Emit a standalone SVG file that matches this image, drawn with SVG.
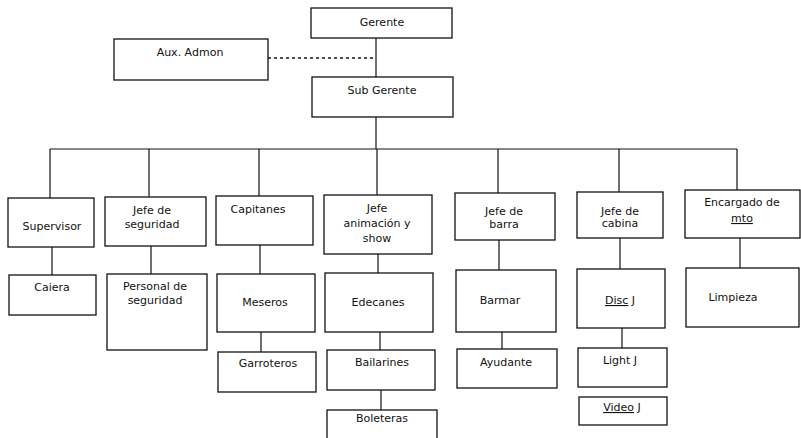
<svg xmlns="http://www.w3.org/2000/svg" width="801" height="438" viewBox="0 0 801 438">
<style>
.b{fill:#fff;stroke:#111;stroke-width:1.3}
.t{font-family:"DejaVu Sans",sans-serif;font-size:11px;fill:#111;text-anchor:middle}
.c{stroke:#111;stroke-width:1.2;fill:none}
.d{stroke:#111;stroke-width:1.6;stroke-dasharray:3,3;fill:none}
.u{text-decoration:underline}
</style>
<rect width="801" height="438" fill="#fff"/>
<g id="connectors">
<line class="c" x1="376" y1="38" x2="376" y2="77"/>
<line class="d" x1="268" y1="58" x2="376" y2="58"/>
<line class="c" x1="376" y1="117" x2="376" y2="149"/>
<line class="c" x1="50" y1="149" x2="737" y2="149"/>
<line class="c" x1="50" y1="149" x2="50" y2="198"/>
<line class="c" x1="149" y1="149" x2="149" y2="197"/>
<line class="c" x1="259" y1="149" x2="259" y2="196"/>
<line class="c" x1="377" y1="149" x2="377" y2="195"/>
<line class="c" x1="498" y1="149" x2="498" y2="193"/>
<line class="c" x1="619" y1="149" x2="619" y2="192"/>
<line class="c" x1="737" y1="149" x2="737" y2="190"/>
<line class="c" x1="52" y1="247" x2="52" y2="275"/>
<line class="c" x1="151" y1="246" x2="151" y2="274"/>
<line class="c" x1="260" y1="245" x2="260" y2="274"/>
<line class="c" x1="378" y1="254" x2="378" y2="273"/>
<line class="c" x1="499" y1="240" x2="499" y2="270"/>
<line class="c" x1="620" y1="238" x2="620" y2="269"/>
<line class="c" x1="740" y1="238" x2="740" y2="268"/>
<line class="c" x1="261" y1="332" x2="261" y2="352"/>
<line class="c" x1="380" y1="332" x2="380" y2="350"/>
<line class="c" x1="381" y1="390" x2="381" y2="410"/>
<line class="c" x1="502" y1="332" x2="502" y2="349"/>
<line class="c" x1="622" y1="328" x2="622" y2="348"/>
</g>
<g id="gerente"><rect class="b" x="311" y="8" width="141" height="30"/><text class="t" x="382" y="26">Gerente</text></g>
<g id="aux-admon"><rect class="b" x="114" y="39" width="154" height="41"/><text class="t" x="190" y="56">Aux. Admon</text></g>
<g id="sub-gerente"><rect class="b" x="312" y="77" width="141" height="40"/><text class="t" x="382" y="94">Sub Gerente</text></g>
<g id="supervisor"><rect class="b" x="8" y="198" width="86" height="49"/><text class="t" x="52" y="230">Supervisor</text></g>
<g id="jefe-seguridad"><rect class="b" x="105" y="197" width="101" height="49"/><text class="t" x="152" y="214">Jefe de</text><text class="t" x="152" y="228">seguridad</text></g>
<g id="capitanes"><rect class="b" x="216" y="196" width="97" height="49"/><text class="t" x="258" y="213">Capitanes</text></g>
<g id="jefe-animacion"><rect class="b" x="324" y="195" width="108" height="59"/><text class="t" x="377" y="212">Jefe</text><text class="t" x="377" y="227">animación y</text><text class="t" x="377" y="242">show</text></g>
<g id="jefe-barra"><rect class="b" x="455" y="193" width="100" height="47"/><text class="t" x="504" y="215">Jefe de</text><text class="t" x="504" y="228">barra</text></g>
<g id="jefe-cabina"><rect class="b" x="577" y="192" width="86" height="46"/><text class="t" x="620" y="215">Jefe de</text><text class="t" x="620" y="227">cabina</text></g>
<g id="encargado-mto"><rect class="b" x="685" y="190" width="115" height="48"/><text class="t" x="742" y="206">Encargado de</text><text class="t" x="742" y="222"><tspan class="u">mto</tspan></text></g>
<g id="caiera"><rect class="b" x="9" y="275" width="87" height="40"/><text class="t" x="52" y="291">Caiera</text></g>
<g id="personal-seguridad"><rect class="b" x="107" y="274" width="100" height="76"/><text class="t" x="155" y="290">Personal de</text><text class="t" x="155" y="304">seguridad</text></g>
<g id="meseros"><rect class="b" x="217" y="274" width="98" height="58"/><text class="t" x="265" y="306">Meseros</text></g>
<g id="edecanes"><rect class="b" x="325" y="273" width="108" height="59"/><text class="t" x="378" y="306">Edecanes</text></g>
<g id="barmar"><rect class="b" x="456" y="270" width="100" height="62"/><text class="t" x="500" y="304">Barmar</text></g>
<g id="disc-j"><rect class="b" x="577" y="269" width="88" height="59"/><text class="t" x="620" y="304"><tspan class="u">Disc</tspan> J</text></g>
<g id="limpieza"><rect class="b" x="686" y="268" width="113" height="59"/><text class="t" x="733" y="301">Limpieza</text></g>
<g id="garroteros"><rect class="b" x="218" y="352" width="98" height="40"/><text class="t" x="268" y="367">Garroteros</text></g>
<g id="bailarines"><rect class="b" x="327" y="350" width="108" height="40"/><text class="t" x="382" y="366">Bailarines</text></g>
<g id="ayudante"><rect class="b" x="457" y="349" width="100" height="39"/><text class="t" x="506" y="366">Ayudante</text></g>
<g id="light-j"><rect class="b" x="578" y="348" width="89" height="39"/><text class="t" x="620" y="364">Light J</text></g>
<g id="video-j"><rect class="b" x="579" y="397" width="88" height="28"/><text class="t" x="622" y="411"><tspan class="u">Video</tspan> J</text></g>
<g id="boleteras"><rect class="b" x="327" y="410" width="110" height="40"/><text class="t" x="382" y="422">Boleteras</text></g>
</svg>
